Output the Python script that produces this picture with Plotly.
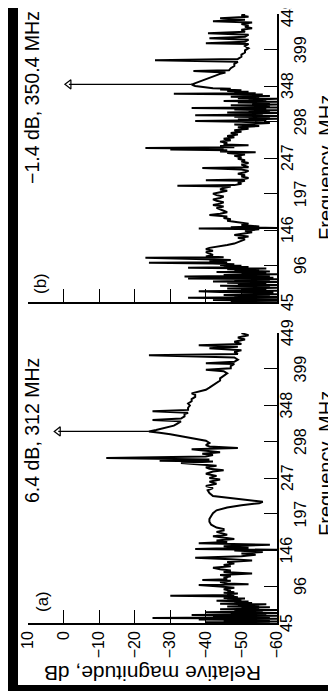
import plotly.graph_objects as go

# ---------------- data ----------------
freq_ticks = [45, 96, 146, 197, 247, 298, 348, 399, 449]
db_ticks = [10, 0, -10, -20, -30, -40, -50, -60]
db_tick_text = ["10", "0", "\u221210", "\u221220", "\u221230", "\u221240", "\u221250", "\u221260"]

# panel (a): (frequency MHz, relative magnitude dB)
spectrum_a = [
    (45, -58), (46, -40), (47, -60), (48, -45), (49, -58), (50, -38), (51, -60), (52, -25),
    (53, -58), (54, -42), (55, -60), (56, -36), (57, -57), (58, -47), (59, -60), (60, -40),
    (61, -56), (62, -48), (63, -60), (64, -44), (65, -55), (66, -50), (67, -58), (68, -46),
    (69, -55), (70, -49), (71, -57), (72, -44), (73, -53), (74, -48), (75, -52), (76, -43),
    (77, -50), (78, -46), (79, -51), (80, -45), (81, -49), (82, -47), (83, -30), (84, -48),
    (85, -46), (86, -49), (87, -45), (88, -48), (89, -46), (90, -47), (92, -45), (94, -48),
    (96, -44), (98, -38), (99, -52), (100, -46), (102, -44), (104, -47), (105, -39), (106, -46),
    (108, -45), (110, -47), (112, -44), (114, -53), (116, -45), (118, -47), (120, -44), (122, -42),
    (124, -47), (126, -45), (128, -48), (130, -46), (132, -53), (134, -47), (136, -37), (138, -50),
    (140, -54), (142, -50), (144, -56), (146, -48), (147, -60), (148, -37), (150, -52), (152, -45),
    (154, -58), (156, -38), (158, -46), (160, -43), (162, -48), (164, -45), (166, -42), (168, -46),
    (170, -44), (172, -43), (174, -45), (176, -45), (178, -43), (182, -41.5), (186, -41), (190, -41),
    (194, -41.5), (198, -42), (202, -43), (206, -46), (209, -50), (212, -55), (214, -56), (216, -52),
    (219, -46), (222, -42), (226, -41), (230, -40.5), (233, -42), (236, -40), (239, -43), (242, -41),
    (245, -44), (247, -41), (250, -43), (253, -40), (256, -42), (258, -45), (260, -41), (262, -40),
    (264, -43), (266, -39), (268, -33), (270, -42), (271, -27), (273, -41), (275, -12), (277, -40),
    (279, -42), (281, -39), (283, -44), (285, -40), (287, -36), (289, -49), (291, -41), (293, -40),
    (296, -41), (299, -40), (302, -37), (305, -33), (308, -30), (310, -27), (312, -24), (314, -26),
    (317, -29), (320, -31), (323, -32), (326, -33), (328, -25), (330, -33), (333, -34), (336, -34),
    (338, -35), (340, -25), (342, -35), (345, -35), (348, -35.5), (351, -35), (354, -36), (357, -36),
    (360, -37), (363, -37), (365, -36), (367, -38), (370, -40), (373, -41), (376, -42), (380, -43),
    (383, -44), (386, -44), (390, -45), (393, -46), (396, -45), (398, -40), (400, -47), (403, -47),
    (406, -48), (407, -40), (409, -48), (412, -49), (415, -48), (418, -24), (420, -49), (423, -48),
    (425, -50), (428, -41), (430, -49), (432, -38), (434, -50), (437, -48), (440, -51), (443, -49),
    (446, -52), (449, -50),
]

# panel (b)
spectrum_b = [
    (45, -58), (46, -47), (47, -60), (48, -42), (49, -60), (50, -52), (51, -35), (52, -60),
    (53, -48), (54, -58), (55, -45), (56, -60), (57, -50), (58, -59), (59, -44), (60, -38),
    (61, -60), (62, -50), (63, -57), (64, -46), (65, -60), (66, -52), (67, -58), (68, -44),
    (69, -60), (70, -49), (71, -57), (72, -46), (73, -60), (74, -42), (75, -58), (76, -48),
    (77, -60), (78, -35), (79, -59), (80, -47), (81, -34), (82, -58), (83, -45), (84, -60),
    (85, -50), (86, -57), (87, -43), (88, -58), (89, -48), (90, -55), (91, -46), (92, -57),
    (93, -35), (94, -52), (95, -45), (96, -50), (97, -44), (98, -48), (99, -42), (100, -24),
    (101, -46), (102, -41), (104, -47), (105, -40), (107, -23), (108, -45), (109, -40), (111, -42),
    (113, -41), (115, -40), (117, -42), (119, -40), (121, -41), (123, -44), (125, -46), (127, -48),
    (129, -49), (131, -50), (133, -51), (135, -49), (137, -52), (139, -48), (141, -50), (143, -53),
    (145, -51), (147, -55), (148, -38), (149, -60), (150, -47), (151, -55), (153, -50), (155, -52),
    (157, -49), (159, -46), (161, -47), (163, -45), (165, -46), (167, -41), (169, -44), (171, -46),
    (173, -45), (175, -44), (177, -43), (179, -45), (181, -42), (183, -44), (185, -45), (187, -43),
    (189, -42), (191, -44), (193, -45), (195, -43), (197, -42), (199, -44), (201, -46), (203, -44),
    (205, -45), (207, -47), (208, -32), (209, -48), (211, -50), (213, -49), (215, -51), (216, -40),
    (217, -50), (219, -52), (221, -50), (223, -51), (225, -49), (227, -51), (229, -52), (231, -50),
    (233, -39), (234, -52), (236, -51), (238, -50), (240, -52), (242, -50), (244, -51), (246, -49),
    (248, -50), (250, -48), (252, -51), (254, -46), (255, -54), (256, -44), (258, -46), (259, -30),
    (260, -45), (261, -23), (262, -48), (264, -44), (265, -52), (266, -45), (268, -46), (270, -44),
    (272, -47), (274, -45), (276, -48), (278, -46), (280, -49), (282, -47), (284, -50), (286, -48),
    (288, -52), (290, -49), (292, -55), (294, -48), (296, -58), (298, -50), (299, -37), (300, -57),
    (301, -49), (302, -60), (303, -52), (304, -58), (305, -48), (306, -60), (307, -37), (308, -56),
    (309, -50), (310, -60), (311, -46), (312, -58), (313, -52), (314, -60), (315, -48), (316, -57),
    (317, -36), (318, -60), (319, -51), (320, -58), (321, -47), (322, -60), (323, -53), (324, -58),
    (325, -49), (326, -60), (327, -45), (328, -57), (329, -52), (330, -60), (331, -49), (332, -55),
    (333, -47), (334, -58), (335, -51), (336, -56), (337, -31), (338, -54), (339, -48), (340, -52),
    (341, -46), (342, -50), (343, -44), (344, -47), (345, -42), (346, -40), (347, -38), (348, -37),
    (349, -36.5), (350.4, -36), (351, -36.5), (352, -37), (353, -38), (355, -39), (357, -40),
    (359, -41), (361, -42), (363, -42.5), (365, -44), (367, -45.5), (369, -36.5), (370, -46.5),
    (373, -47), (376, -48), (379, -48), (382, -49), (384, -25.7), (386, -49), (389, -50), (392, -50),
    (395, -51), (398, -51), (401, -52), (404, -51), (407, -52), (408, -40), (410, -51), (413, -52),
    (415, -41), (417, -51), (420, -52), (422, -40.6), (424, -51), (427, -50), (429, -53), (431, -51),
    (433, -52), (435, -50), (437, -53), (439, -42), (441, -51), (443, -44), (445, -52), (447, -50),
    (449, -51),
]

# arrowed peaks: (frequency, start dB on trace, arrow tip dB)
peak_a = (312, -24, 1.5)
peak_b = (350.4, -36, -1.5)
label_a = "6.4 dB, 312 MHz"
label_b = "\u22121.4 dB, 350.4 MHz"

FONT = "Liberation Sans, Arial, Helvetica, sans-serif"

fig = go.Figure()


def add_panel(spec, peak, xa, ya):
    f = [p[0] for p in spec]
    d = [p[1] for p in spec]
    fig.add_trace(go.Scatter(x=d, y=f, mode="lines", xaxis=xa, yaxis=ya,
                             line=dict(color="black", width=2), showlegend=False,
                             hoverinfo="skip"))
    fig.add_trace(go.Scatter(x=[peak[1], peak[2]], y=[peak[0], peak[0]], mode="lines",
                             xaxis=xa, yaxis=ya, line=dict(color="black", width=1.2),
                             showlegend=False, hoverinfo="skip"))
    fig.add_trace(go.Scatter(x=[peak[2]], y=[peak[0]], mode="markers", xaxis=xa, yaxis=ya,
                             marker=dict(symbol="triangle-left-open", size=8,
                                         color="black", line=dict(width=1.2, color="black")),
                             showlegend=False, hoverinfo="skip"))


add_panel(spectrum_a, peak_a, "x", "y")
add_panel(spectrum_b, peak_b, "x2", "y2")

xcommon = dict(range=[10, -60], tickvals=db_ticks, ticktext=db_tick_text, ticks="inside",
               ticklen=13, tickwidth=1.3, tickcolor="black", showline=True, linecolor="black",
               linewidth=1.6, showgrid=False, zeroline=False, tickangle=-90,
               tickfont=dict(family=FONT, size=16, color="black"))
ycommon = dict(range=[45, 449], tickvals=freq_ticks, ticks="inside", ticklen=13, tickwidth=1.3,
               tickcolor="black", showline=True, linecolor="black", linewidth=1.6,
               showgrid=False, zeroline=False, side="right", showticklabels=False)

fig.update_layout(
    width=336, height=691,
    margin=dict(l=20, r=67, t=6, b=76),
    paper_bgcolor="white", plot_bgcolor="white",
    font=dict(family=FONT, color="black"),
    xaxis=dict(**xcommon, anchor="y"),
    xaxis2=dict(**{**xcommon, "showticklabels": False}, anchor="y2"),
    yaxis=dict(**ycommon, domain=[0, 0.476], anchor="x"),
    yaxis2=dict(**ycommon, domain=[0.527, 1.0], anchor="x2"),
)


def px_x(px):
    return (px - 20) / 249


def px_y(py):
    return (615 - py) / 609


ann = []
# staggered frequency tick labels
for i, fv in enumerate(freq_ticks):
    xpos = px_x(279 if i % 2 == 0 else 292.5)
    for yr in ("y", "y2"):
        ann.append(dict(x=xpos, y=fv, xref="paper", yref=yr, text=str(fv), showarrow=False,
                        textangle=-90, xanchor="center", yanchor="middle",
                        font=dict(size=16, family=FONT)))

# frequency axis titles
for yc in (456, 160):
    ann.append(dict(x=px_x(318), y=px_y(yc), xref="paper", yref="paper",
                    text="Frequency, MHz", showarrow=False, textangle=-90,
                    xanchor="center", yanchor="middle", font=dict(size=20, family=FONT)))
# dB axis title (upside down)
ann.append(dict(x=px_x(145), y=px_y(665), xref="paper", yref="paper",
                text="Relative magnitude, dB", showarrow=False, textangle=180,
                xanchor="center", yanchor="middle", font=dict(size=21, family=FONT)))
# panel letters
ann.append(dict(x=px_x(34), y=px_y(594), xref="paper", yref="paper",
                text="(a)", showarrow=False, textangle=-90, xanchor="center", yanchor="middle",
                font=dict(size=17, family=FONT)))
ann.append(dict(x=px_x(32), y=px_y(276), xref="paper", yref="paper",
                text="(b)", showarrow=False, textangle=-90, xanchor="center", yanchor="middle",
                font=dict(size=17, family=FONT)))
# peak labels
ann.append(dict(x=px_x(24), y=px_y(423), xref="paper", yref="paper",
                text=label_a, showarrow=False, textangle=-90, xanchor="center", yanchor="middle",
                font=dict(size=19.5, family=FONT)))
ann.append(dict(x=px_x(24), y=px_y(90), xref="paper", yref="paper",
                text=label_b, showarrow=False, textangle=-90, xanchor="center", yanchor="middle",
                font=dict(size=19.5, family=FONT)))
fig.update_layout(annotations=ann)

# black border strips (left and bottom)
fig.add_shape(type="rect", xref="paper", yref="paper", x0=-0.2, x1=px_x(10),
              y0=-0.2, y1=1.1, fillcolor="black", line=dict(width=0), layer="below")
fig.add_shape(type="rect", xref="paper", yref="paper", x0=-0.2, x1=1.4,
              y0=-0.2, y1=px_y(677), fillcolor="black", line=dict(width=0), layer="below")

fig.write_html("out.html")
